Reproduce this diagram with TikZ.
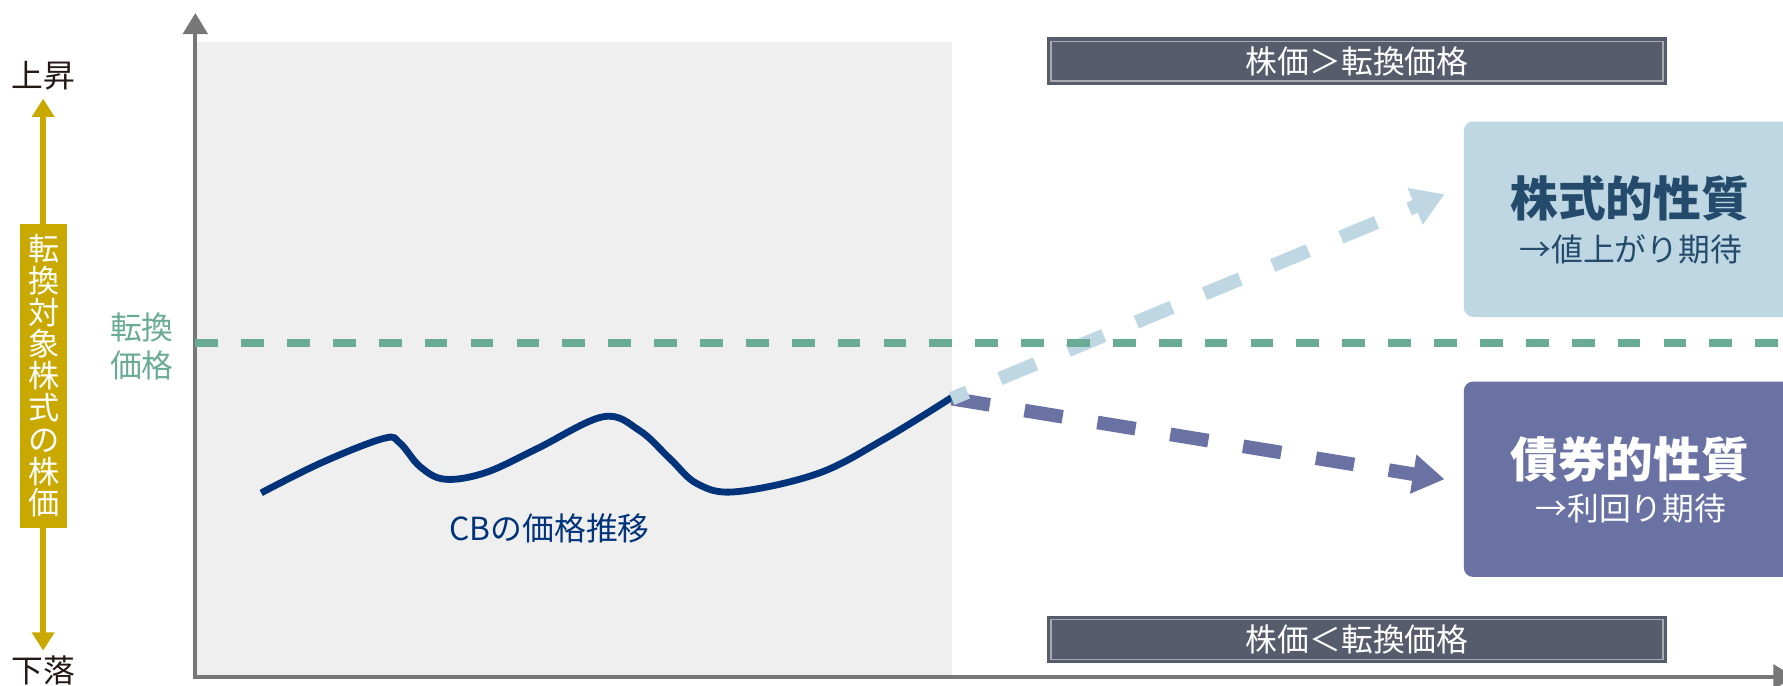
\documentclass[tikz,border=0pt]{standalone}
\usepackage{fontspec}
\setmainfont{Noto Sans CJK JP}
\usetikzlibrary{arrows.meta}

\definecolor{panelgray}{HTML}{EFEFEF}
\definecolor{axisgray}{HTML}{777777}
\definecolor{convgreen}{HTML}{6AAB96}
\definecolor{priceyellow}{HTML}{C9A800}
\definecolor{cbnavy}{HTML}{00337A}
\definecolor{stockblue}{HTML}{BFD7E3}
\definecolor{stocktext}{HTML}{244B6C}
\definecolor{bondpurple}{HTML}{6A72A4}
\definecolor{slatebox}{HTML}{575C6C}
\definecolor{slateline}{HTML}{A8A9B2}
\definecolor{inkblack}{HTML}{231815}

\newcommand{\lblfont}{\fontsize{28}{33}\selectfont}
\newcommand{\vertfont}{\fontsize{27.5}{28}\selectfont}
\newcommand{\titlefont}{\fontsize{42}{46}\selectfont\bfseries}

\begin{document}
\begin{tikzpicture}[x=1pt, y=-1pt,
		condbox/.style={fill=slatebox, draw=slateline, line width=1.3pt,
			preaction={draw=slatebox, line width=7pt},
			minimum width=539pt, minimum height=35pt, inner sep=0pt,
			text=white, font=\lblfont},
		propbox/.style={rounded corners=8pt, minimum width=292pt, minimum height=172pt, inner sep=0pt},
		trend/.style={line width=12pt, dash pattern=on 34pt off 31pt,
			-{Triangle[length=28pt,width=33pt]}},
		axistip/.tip={Triangle[length=18.5pt,width=21.5pt]},
		pricetip/.tip={Triangle[length=16pt,width=19pt]}]
		\useasboundingbox (0,0) rectangle (1570,604);

		\fill[panelgray] (173,37) rectangle (838,596);
		\draw[axisgray, line width=3.5pt, axistip-axistip] (172,11.5) -- (172,596) -- (1580,596);

		% left scale
		\node[text=inkblack, font=\lblfont, inner sep=0pt] (rise) at (38,67) {上昇};
		\node[text=inkblack, font=\lblfont, inner sep=0pt] (fall) at (38,590) {下落};
		\draw[priceyellow, line width=5.5pt, pricetip-pricetip, shorten <=7pt, shorten >=4pt] (rise.south) -- (fall.north);
		\node[fill=priceyellow, text=white, font=\vertfont, align=center,
			minimum width=41pt, minimum height=268pt, inner sep=0pt] (pricebox) at (38.5,331)
			{転\\換\\対\\象\\株\\式\\の\\株\\価};

		% CB price
		\draw[cbnavy, line width=6pt, line join=round] plot[smooth, tension=0.6] coordinates {(230,434) (284,407) (338,386) (352,390) (370,411) (392,422) (428,416) (473,395) (531,367) (563,379) (590,404) (614,426) (648,433) (720,417) (778,387) (838,350)};
		\node[text=cbnavy, font=\lblfont] (cblabel) at (484,465) {CBの価格推移};

		\coordinate (cbend) at (838,351);
		\coordinate (stocktip) at (1272,171);
		\coordinate (bondtip) at (1272,422);
		\draw[trend, bondpurple] (cbend) -- (bondtip);
		\draw[trend, stockblue, dash phase=19pt] (cbend) -- (stocktip);

		% conversion price
		\draw[convgreen, line width=6.5pt, dash pattern=on 20pt off 20.4pt] (172,302) -- (1570,302);
		\node[text=convgreen, font=\lblfont, align=center] (convlabel) at (125,305) {転換\\価格};

		\node[condbox] (upper) at (1195,54) {株価＞転換価格};
		\node[condbox] (lower) at (1195,563) {株価＜転換価格};

		\node[propbox, fill=stockblue] (stockbox) at (1435,193) {};
		\node[text=stocktext, font=\titlefont] (stocktitle) at (1435,175) {株式的性質};
		\node[text=stocktext, font=\lblfont] (stocksub) at (1436,220) {→値上がり期待};

		\node[propbox, fill=bondpurple] (bondbox) at (1435,422) {};
		\node[text=white, font=\titlefont] (bondtitle) at (1435,404.5) {債券的性質};
		\node[text=white, font=\lblfont] (bondsub) at (1436,448) {→利回り期待};

	\end{tikzpicture}
\end{document}
